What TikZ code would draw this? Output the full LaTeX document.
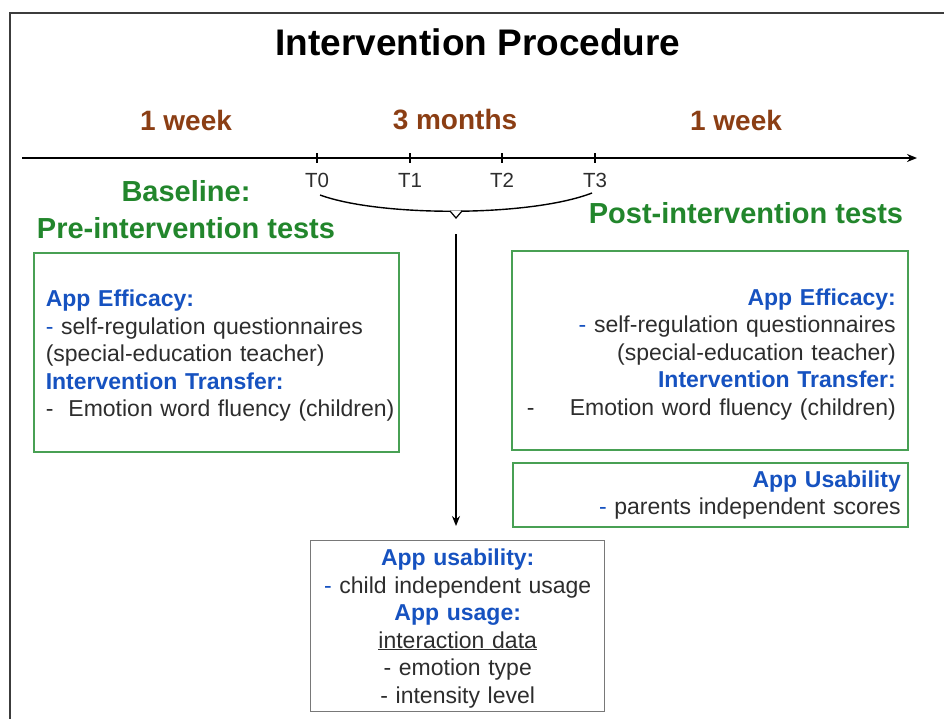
\documentclass[tikz,border=0pt]{standalone}
\usepackage{xcolor}
\usepackage{fontspec}
\setmainfont{Liberation Sans}
\usepackage{tikz}
\usetikzlibrary{arrows.meta, positioning}
\definecolor{durbrown}{RGB}{139,62,20}
\definecolor{phasegreen}{RGB}{34,134,44}
\definecolor{boxgreen}{RGB}{72,160,84}
\definecolor{appblue}{RGB}{22,82,192}
\definecolor{bodygray}{RGB}{45,45,45}
\definecolor{boxgray}{RGB}{120,120,120}
\definecolor{framegray}{RGB}{60,60,60}
\newcommand{\boxhead}[1]{{\color{appblue}\bfseries #1}}
\newcommand{\bdash}{\textcolor{appblue}{-}}
\tikzstyle{titlefont} = [font=\fontsize{37}{40}\selectfont\bfseries]
\tikzstyle{duration} = [font=\fontsize{28}{32}\selectfont\bfseries, text=durbrown]
\tikzstyle{phase} = [font=\fontsize{29}{37}\selectfont\bfseries, text=phasegreen, align=center]
\tikzstyle{tlabel} = [font=\fontsize{20.5}{22}\selectfont, text=bodygray]
\tikzstyle{testbox} = [draw=boxgreen, line width=1.6pt, inner xsep=12pt, font=\fontsize{23}{27.5}\selectfont, text=bodygray, anchor=north west]
\tikzstyle{usagebox} = [draw=boxgray, line width=1.4pt, inner xsep=7pt, font=\fontsize{23}{27.5}\selectfont, text=bodygray, anchor=north west, align=center]
\tikzstyle{timeline} = [line width=1.8pt, -{Stealth[length=10pt,width=8pt]}]
\tikzstyle{arrow} = [line width=1.5pt, -{Stealth[length=10pt,width=8pt]}]

\begin{document}
\begin{tikzpicture}[x=1pt,y=-1pt]
  \useasboundingbox (0,0) rectangle (944,718);
  \clip (0,0) rectangle (944,718);
  \draw[framegray, line width=2pt] (10,730) -- (10,13) -- (960,13);

  \node[titlefont] (title) at (478,42) {Intervention Procedure};
  \node[duration] (pre-dur) at (186,120) {1 week};
  \node[duration] (int-dur) at (455,120) {3 months};
  \node[duration] (post-dur) at (736,120) {1 week};

  % time axis
  \coordinate (tl-start) at (22,158);
  \coordinate (tl-end) at (917,158);
  \draw[timeline] (tl-start) -- (tl-end);
  \foreach \x/\t [count=\i from 0] in {317/T0,410/T1,502/T2,595/T3}{
    \coordinate (tick-\i) at (\x,158);
    \draw[line width=1.4pt] ([yshift=5pt]tick-\i) -- ([yshift=-5pt]tick-\i);
    \node[tlabel] (lab-\i) at (\x,180) {\t};
  }

  \coordinate (arc-l) at (320,195);
  \coordinate (arc-r) at (592,193);
  \draw[line width=1.4pt] (arc-l) .. controls (380,217) and (530,217) .. (arc-r);
  \draw[line width=1.2pt, fill=white] (450,211) -- (456,218) -- (462,211);
  \coordinate (notch) at (456,218);

  \node[phase] (baseline) at (186,210) {Baseline:\\Pre-intervention tests};
  \node[phase] (post) at (746,213) {Post-intervention tests};

  \node[testbox, minimum width=365pt, minimum height=199pt, text width=341pt, text height=24pt, align=left] (prebox) at (33,252) {
    \boxhead{App Efficacy:}\\
    \bdash{} self-regulation questionnaires\\
    (special-education teacher)\\
    \boxhead{Intervention Transfer:}\\
    \mbox{-\hspace{15pt}Emotion word fluency (children)}};

  \node[testbox, minimum width=396pt, minimum height=199pt, text width=372pt, text height=25pt, align=right] (postbox) at (511,250) {
    \boxhead{App Efficacy:}\\
    \bdash{} self-regulation questionnaires\\
    (special-education teacher)\\
    \boxhead{Intervention Transfer:}\\
    \hbox to \hsize{\hspace{3pt}-\hfill Emotion word fluency (children)}};

  \node[testbox, inner xsep=7pt, minimum width=395pt, minimum height=64pt, text width=381pt, align=right] (parentbox) at (512,462) {
    \boxhead{App Usability}\\
    \bdash{} parents independent scores};

  \node[usagebox, minimum width=294pt, minimum height=171pt, text width=280pt, text height=21pt] (usage) at (310,540) {
    \boxhead{App usability:}\\
    \bdash{} child independent usage\\
    \boxhead{App usage:}\\
    \underline{interaction data}\\
    - emotion type\\
    - intensity level};

  \draw[arrow, shorten <=16pt, shorten >=14pt] (notch) -- (notch |- usage.north);
\end{tikzpicture}
\end{document}
